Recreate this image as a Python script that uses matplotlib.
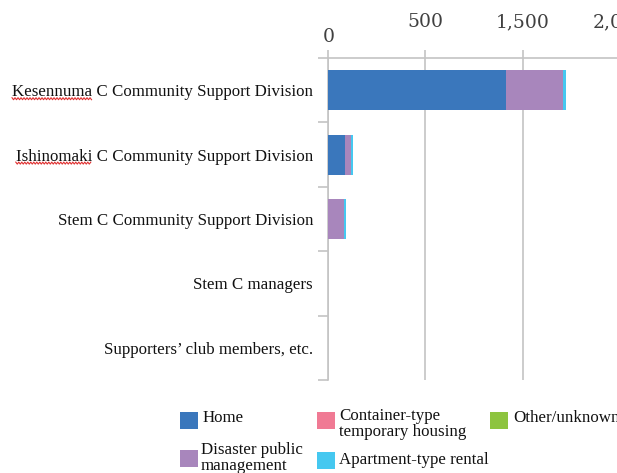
import matplotlib
matplotlib.use("Agg")
import matplotlib.pyplot as plt
import matplotlib.transforms as mtransforms
from matplotlib.patches import Rectangle
from matplotlib.lines import Line2D
import numpy as np

# ---------------- data ----------------
categories = [
    "Kesennuma C Community Support Division",
    "Ishinomaki C Community Support Division",
    "Stem C Community Support Division",
    "Stem C managers",
    "Supporters\u2019 club members, etc.",
]
series_names = [
    "Home",
    "Disaster public\nmanagement",
    "Container-type\ntemporary housing",
    "Apartment-type rental",
    "Other/unknown",
]
home = [913, 86, 0, 0, 0]
disaster_public = [296, 29, 82, 0, 0]
container_housing = [0, 0, 0, 0, 0]
apartment_rental = [14, 13, 8, 0, 0]
other_unknown = [0, 0, 0, 0, 0]
tick_values = [0, 500, 1000, 1500]
tick_labels = ["0", "500", "1,500", "2,000"]
colors = ["#3A77BC", "#A886BC", "#F07A94", "#45C8F0", "#8DC43F"]

series = [home, disaster_public, container_housing, apartment_rental, other_unknown]

W, H = 617, 473
fig = plt.figure(figsize=(W / 100, H / 100), dpi=100)
fig.patch.set_facecolor("white")

ax_left, ax_top, ax_bottom = 328.3, 58.0, 380.0
ax_width = 4 * 97.2
ax = fig.add_axes([ax_left / W, 1 - ax_bottom / H, ax_width / W, (ax_bottom - ax_top) / H])

y = np.arange(len(categories))
left = np.zeros(len(categories))
for vals, col in zip(series, colors):
    ax.barh(y, vals, left=left, height=0.62, color=col, zorder=3, linewidth=0)
    left += np.array(vals, dtype=float)

ax.set_xlim(0, 2000)
ax.set_ylim(len(categories) - 0.5, -0.5)

grey = "#C4C4C4"
for s in ["right", "bottom"]:
    ax.spines[s].set_visible(False)
for s in ["left", "top"]:
    ax.spines[s].set_color(grey)
    ax.spines[s].set_linewidth(1.2)

# x axis on top, ticks only (labels drawn as text)
ax.xaxis.set_ticks_position("top")
ax.set_xticks(tick_values)
ax.tick_params(axis="x", which="major", direction="out", length=6, color=grey,
               width=1.2, labeltop=False, labelbottom=False)
ax.grid(axis="x", color=grey, linewidth=1.2, zorder=0)
ax.grid(axis="y", visible=False)

tt = mtransforms.blended_transform_factory(ax.transData, ax.transAxes)
for v, lab in zip(tick_values, tick_labels):
    yy = 1 + (58 - 37) / 322 if v == 0 else 1 + (58 - 22) / 322
    ax.text(v, yy, lab, transform=tt, ha="center", va="center",
            fontsize=13.5, family="DejaVu Serif", color="#404040", clip_on=False)

# y axis: labels at centers, ticks at boundaries
ax.set_yticks(y)
ax.set_yticklabels(categories, fontsize=12.2, family="Liberation Serif", color="#111111")
ax.set_yticks(np.arange(-0.5, len(categories), 1.0), minor=True)
ax.tick_params(axis="y", which="major", length=0, pad=11)
ax.tick_params(axis="y", which="minor", direction="out", length=7, color=grey, width=1.2)

# ---------------- legend (manual) ----------------
def px(x, yv):
    return x / W, 1 - yv / H

leg_items = [
    # (series index, patch x, patch top y, text x, text center y)
    (0, 180, 412, 203, 418),
    (2, 317, 412, 339, 424),
    (4, 490, 412, 513, 418),
    (1, 180, 450, 201, 458),
    (3, 317, 452, 339, 460),
]
for idx, xp, yp, xt, yt in leg_items:
    fx, fy = px(xp, yp + 17)
    fig.add_artist(Rectangle((fx, fy), 18 / W, 17 / H, transform=fig.transFigure,
                             facecolor=colors[idx], edgecolor="none"))
    tx, ty = px(xt, yt)
    fig.text(tx, ty, series_names[idx], ha="left", va="center", fontsize=12.2,
             family="Liberation Serif", color="#111111", linespacing=0.95)

# red spell-check underline under first words
fig.canvas.draw()
renderer = fig.canvas.get_renderer()
inv = fig.transFigure.inverted()
for lab in ax.get_yticklabels():
    txt = lab.get_text()
    if txt.startswith("Kesennuma") or txt.startswith("Ishinomaki"):
        word = txt.split(" ")[0]
        bb = lab.get_window_extent(renderer)
        tmp = fig.text(0, 0, word, fontproperties=lab.get_fontproperties())
        w = tmp.get_window_extent(renderer).width
        tmp.remove()
        xs = np.arange(bb.x0, bb.x0 + w, 1.5)
        ys = bb.y0 + 1.5 + np.where(np.arange(len(xs)) % 2 == 0, 1.0, -1.0)
        pts = inv.transform(np.column_stack([xs, ys]))
        fig.add_artist(Line2D(pts[:, 0], pts[:, 1], transform=fig.transFigure,
                              color="#E03030", linewidth=0.8))

fig.savefig("out.png", dpi=100, facecolor="white")
